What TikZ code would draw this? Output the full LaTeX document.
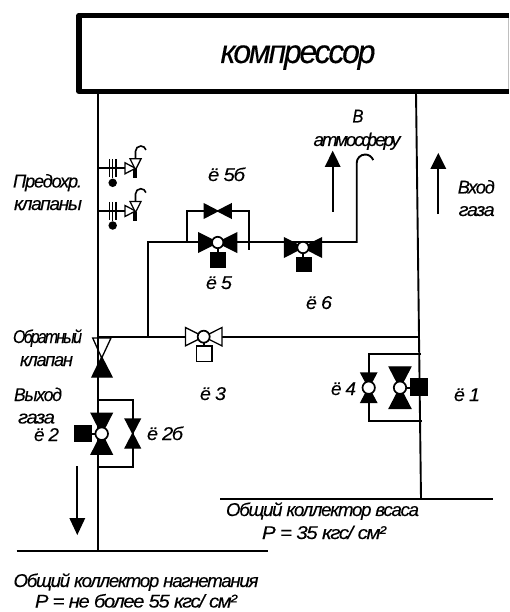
\documentclass[tikz,border=0pt]{standalone}
\usepackage{fontspec}
\usepackage{graphicx}
\setmainfont{Liberation Sans}
\newfontfamily\tightf[LetterSpace=-7,FakeBold=0.2]{Liberation Sans}
\newfontfamily\tighterf[LetterSpace=-12,FakeBold=0.2]{Liberation Sans}
\newcommand{\fitw}[2]{\resizebox{#1pt}{\height}{#2}}
\tikzset{
  x=1pt,y=-1pt,
  pipe/.style={line width=1.9pt,line join=miter},
  tri/.style={line width=1.3pt,line join=miter},
  lab/.style={inner sep=0pt,outer sep=0pt,anchor=base,font=\fontsize{18.5}{20}\selectfont\itshape\tightf},
  labx/.style={lab,font=\fontsize{18.5}{20}\selectfont\itshape\tighterf},
  dot/.style={circle,fill=black,inner sep=0pt,minimum size=8.5pt},
  flowarrow/.style={line width=1.9pt},
}
% horizontal butterfly: name, cx, cy, half width, half height, fill
\newcommand{\bfH}[6]{%
  \coordinate (#1) at (#2,#3);
  \draw[tri,fill=#6] (#1) -- ++(-#4,-#5) -- ++(0,2*#5) -- cycle;
  \draw[tri,fill=#6] (#1) -- ++(#4,-#5) -- ++(0,2*#5) -- cycle;}
% vertical butterfly
\newcommand{\bfV}[6]{%
  \coordinate (#1) at (#2,#3);
  \draw[tri,fill=#6] (#1) -- ++(-#4,-#5) -- ++(2*#4,0) -- cycle;
  \draw[tri,fill=#6] (#1) -- ++(-#4,#5) -- ++(2*#4,0) -- cycle;}
\newcommand{\seat}[2]{\draw[line width=1.7pt,fill=white] (#1) circle (#2);}
% safety valve group: name, row y
\newcommand{\safety}[2]{%
  \coordinate (#1a) at (98.3,#2);
  \coordinate (#1b) at (125,#2);
  \draw[pipe] (#1a) -- (#1b);
  \foreach \bx in {109.3,112.6,116}{\draw[line width=1.6pt] (\bx,#2-9) -- (\bx,#2+8.5);}
  \node[dot] (#1d) at (112.7,#2+14.5) {};
  \draw[line width=1.4pt] (112.7,#2) -- (#1d);
  \draw[tri,fill=white] (#1b) ++(0,-5.5) -- ++(0,11) -- ++(10.5,-5.5) -- cycle;
  \fill (133.3,#2+1) rectangle (137,#2+10);
  \draw[tri,fill=white] (130,#2-9.5) -- (141,#2-9.5) -- (135.5,#2+1.5) -- cycle;
  \draw[line width=1.6pt] (135.5,#2-9.5) -- (135.5,#2-17) arc[start angle=180,end angle=345,radius=5.3];}
\begin{document}
\begin{tikzpicture}
\useasboundingbox (0,0) rectangle (509,612);
% compressor
\draw[black!25,line width=0.8pt] (508.4,18) -- (508.4,89);
\draw[line width=5.5pt,line join=round] (509,15.5) -- (79,15.5) -- (79,91.5) -- (509,91.5);
\node[lab,font=\fontsize{33}{35}\selectfont\itshape\tightf] (tcomp) at (298,63) {\fitw{155}{компрессор}};
% junction points
\coordinate (ltop) at (98.3,92);
\coordinate (lbot) at (98.3,551);
\coordinate (rtop) at (416,92);
\coordinate (rbot) at (421,499);
\coordinate (hl) at (98.3,336.7);
\coordinate (hr) at (418.7,336.7);
\coordinate (u1) at (148,336.7);
\coordinate (u2) at (148,242);
\coordinate (u3) at (356.7,242);
\coordinate (u4) at (356.7,163);
\coordinate (b1) at (186.7,242);
\coordinate (b2) at (186.7,211);
\coordinate (b3) at (248.7,211);
\coordinate (b4) at (248.7,250);
\coordinate (c1) at (98.3,400);
\coordinate (c2) at (132.7,400);
\coordinate (c3) at (132.7,466.7);
\coordinate (c4) at (98.3,466.7);
\coordinate (d1) at (421,353.7);
\coordinate (d2) at (368.7,353.7);
\coordinate (d3) at (368.7,420.7);
\coordinate (d4) at (421.7,420.7);
\coordinate (col1a) at (220,499);
\coordinate (col1b) at (492.7,499);
\coordinate (col2a) at (16.7,551);
\coordinate (col2b) at (267.7,551);
% pipes
\draw[pipe] (ltop) -- (lbot);
\draw[pipe] (rtop) -- (rbot);
\draw[pipe] (hl) -- (hr);
\draw[pipe] (u1) -- (u2) -- (u3) -- (u4) arc[start angle=180,end angle=340,radius=8.5];
\draw[pipe] (b1) -- (b2) -- (b3) -- (b4);
\draw[pipe] (c1) -- (c2) -- (c3) -- (c4);
\draw[pipe] (d1) -- (d2) -- (d3) -- (d4);
\draw[pipe] (col1a) -- (col1b);
\draw[pipe] (col2a) -- (col2b);
% safety valves
\safety{sa}{168.3}
\safety{sb}{211}
% valve 5b
\bfH{v5b}{217.7}{211}{13.5}{7}{black}
% valve 5
\bfH{v5}{217.7}{242.5}{19}{9.5}{black}
\draw[pipe] (v5) -- (217.7,254);
\fill (210,252) rectangle (226,268);
\seat{v5}{5.7pt}
% valve 6
\bfH{v6}{303}{247.5}{18.5}{9.5}{black}
\draw[pipe] (v6) -- (303,259);
\fill (296,257) rectangle (312,272);
\seat{v6}{5.7pt}
% valve 3
\bfH{v3}{203.7}{336.7}{18.3}{9.2}{white}
\draw[pipe] (v3) -- (203.7,347);
\draw[line width=1.6pt,fill=white] (196.3,346) rectangle (211.7,361.5);
\seat{v3}{6pt}
% check valve
\draw[tri,fill=black] (101.7,357) -- (92,377) -- (112,377) -- cycle;
\draw[tri] (92.7,338) -- (111,338) -- (101.7,358) -- cycle;
% valve 2
\bfV{v2}{101.7}{433.7}{10.5}{20.5}{black}
\draw[pipe] (v2) -- (90,433.7);
\fill (74,425) rectangle (92,442);
\seat{v2}{6.3pt}
% valve 2b
\bfV{v2b}{132.7}{433.5}{7.5}{14.5}{black}
% valve 4
\bfV{v4}{368.7}{387.7}{7.8}{14.7}{black}
\seat{v4}{6.2pt}
% valve 1
\bfV{v1}{400}{387.7}{10.8}{20.8}{black}
\draw[pipe] (v1) -- (412,387.7);
\fill (410,378) rectangle (427.7,396);
\seat{v1}{6.2pt}
% flow arrows
\coordinate (a1s) at (332.7,211.7); \coordinate (a1e) at (332.7,165);
\coordinate (a2s) at (438.3,214);   \coordinate (a2e) at (438.3,167);
\coordinate (a3s) at (77.3,466);    \coordinate (a3e) at (77.3,520);
\draw[flowarrow] (a1s) -- (a1e);
\fill (332.7,150.7) -- (324.7,167) -- (340.7,167) -- cycle;
\draw[flowarrow] (a2s) -- (a2e);
\fill (438.3,153) -- (430.3,169) -- (446.3,169) -- cycle;
\draw[flowarrow] (a3s) -- (a3e);
\fill (77.3,535) -- (69.3,518) -- (85.3,518) -- cycle;
% labels
\node[lab] (t1) at (47.5,187.5) {\fitw{69}{Предохр.}};
\node[lab] (t2) at (48,210) {\fitw{68}{клапаны}};
\node[labx] (t3) at (47.5,343) {\fitw{69}{Обратный}};
\node[lab] (t4) at (46.5,366) {\fitw{53}{клапан}};
\node[lab] (t5) at (38,401) {\fitw{48}{Выход}};
\node[lab] (t6) at (36.5,423.5) {\fitw{37}{газа}};
\node[lab] (t7) at (46.5,441) {\fitw{25}{ё 2}};
\node[lab] (t8) at (226.5,181) {\fitw{37}{ё 5б}};
\node[lab] (t9) at (219,289) {\fitw{26}{ё 5}};
\node[lab] (t10) at (319,309) {\fitw{26}{ё 6}};
\node[lab] (t11) at (213,400) {\fitw{26}{ё 3}};
\node[lab] (t12) at (343.5,395) {\fitw{25}{ё 4}};
\node[lab] (t13) at (467,401) {\fitw{26}{ё 1}};
\node[lab] (t14) at (165,440) {\fitw{36}{ё 2б}};
\node[lab] (t15) at (358,122.5) {\fitw{11}{В}};
\node[labx] (t16) at (357,146) {\fitw{87}{атмосферу}};
\node[lab] (t17) at (476.3,193.5) {\fitw{37}{Вход}};
\node[lab] (t18) at (476.7,216) {\fitw{36}{газа}};
\node[lab] (t19) at (322.5,516) {\fitw{193}{Общий коллектор всаса}};
\node[lab] (t20) at (324,539) {\fitw{124}{P = 35 кгс/ см²}};
\node[lab] (t21) at (136,587) {\fitw{245}{Общий коллектор нагнетания}};
\node[lab] (t22) at (136,607.5) {\fitw{202}{P = не более 55 кгс/ см²}};
\end{tikzpicture}
\end{document}
